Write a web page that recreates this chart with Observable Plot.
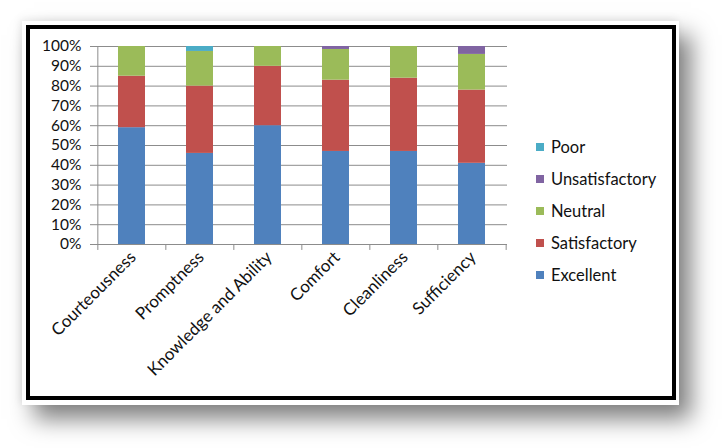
<!DOCTYPE html>
<html>
<head>
<meta charset="utf-8">
<script src="https://cdn.jsdelivr.net/npm/d3@7"></script>
<script src="https://cdn.jsdelivr.net/npm/@observablehq/plot@0.6"></script>
<style>
  html, body { margin: 0; padding: 0; background: #fff; }
  #wrap { position: relative; width: 722px; height: 448px; overflow: hidden; background: #fff; }
  #paper { position: absolute; left: 22px; top: 21px; width: 657px; height: 384px; background: #fff;
           box-shadow: 12px 14px 22px rgba(0,0,0,0.5), -2px -2px 8px rgba(0,0,0,0.08); }
  #frame { position: absolute; left: 26px; top: 25px; width: 650px; height: 375px; box-sizing: border-box;
           border: 4px solid #000; }
  #chart { position: absolute; left: 0; top: 0; }
  #legend { position: absolute; left: 536px; top: 131px; font-family: Lato, "Open Sans", sans-serif; font-size: 16.5px; color: #111; }
  .row { display: flex; align-items: center; height: 32px; }
  .sw { width: 8px; height: 8px; margin-right: 7px; }
</style>
</head>
<body>
<div id="wrap">
  <div id="paper"></div>
  <div id="frame"></div>
  <div id="chart"></div>
  <div id="legend"></div>
</div>
<script>
const categories = ["Courteousness", "Promptness", "Knowledge and Ability", "Comfort", "Cleanliness", "Sufficiency"];
const seriesNames = ["Excellent", "Satisfactory", "Neutral", "Unsatisfactory", "Poor"];
const seriesColors = ["#4F81BD", "#C0504D", "#9BBB59", "#8064A2", "#4BACC6"];
const excellent      = [59, 46, 60, 47, 47, 41];
const satisfactory   = [26, 34, 30, 36, 37, 37];
const neutral        = [15, 17.5, 10, 15.5, 16, 18];
const unsatisfactory = [0, 0, 0, 1.5, 0, 4];
const poor           = [0, 2.5, 0, 0, 0, 0];
const yTicks = [0, 10, 20, 30, 40, 50, 60, 70, 80, 90, 100];

const seriesValues = [excellent, satisfactory, neutral, unsatisfactory, poor];
const data = [];
seriesNames.forEach((s, si) => categories.forEach((c, ci) => data.push({category: c, series: s, value: seriesValues[si][ci]})));

const W = 722, H = 448;
const mLeft = 97, mRight = 507, mTop = 46, mBottom = 244;
const step = (mRight - mLeft) / categories.length;
const gridColor = "#8c8c8c";

const plot = Plot.plot({
  width: W, height: H,
  marginLeft: mLeft, marginRight: W - mRight, marginTop: mTop, marginBottom: H - mBottom,
  style: {background: "transparent", fontFamily: "Lato, 'Open Sans', sans-serif", fontSize: "15px", color: "#111"},
  x: {domain: categories, paddingInner: 0.6, paddingOuter: 0.3, label: null},
  y: {domain: [0, 100], label: null},
  color: {domain: seriesNames, range: seriesColors},
  marks: [
    Plot.gridY(yTicks, {stroke: gridColor, strokeOpacity: 1}),
    Plot.tickX([categories[0]], {x: d => d, dx: -step/2, stroke: gridColor, strokeOpacity: 1}),
    Plot.ruleX(categories, {x: d => d, dx: -step/2, y1: 0, y2: -3, stroke: gridColor, strokeOpacity: 1}),
    Plot.ruleX([categories[categories.length - 1]], {x: d => d, dx: step/2, y1: 0, y2: -3, stroke: gridColor, strokeOpacity: 1}),
    Plot.barY(data, Plot.stackY({order: seriesNames, x: "category", y: "value", fill: "series"})),
    Plot.axisY(yTicks, {tickSize: 7, stroke: gridColor, strokeOpacity: 1, tickPadding: 9, tickFormat: d => d + "%", fontSize: 15.5, fill: "#111"}),
    Plot.axisX({tickSize: 0, tickRotate: -45, tickPadding: 10, dx: 1, fontSize: 17, label: null, fill: "#111"})
  ]
});
document.getElementById("chart").appendChild(plot);

const legend = document.getElementById("legend");
[...seriesNames.keys()].reverse().forEach(i => {
  const row = document.createElement("div");
  row.className = "row";
  const sw = document.createElement("span");
  sw.className = "sw";
  sw.style.background = seriesColors[i];
  const t = document.createElement("span");
  t.textContent = seriesNames[i];
  row.appendChild(sw); row.appendChild(t);
  legend.appendChild(row);
});
</script>
</body>
</html>
